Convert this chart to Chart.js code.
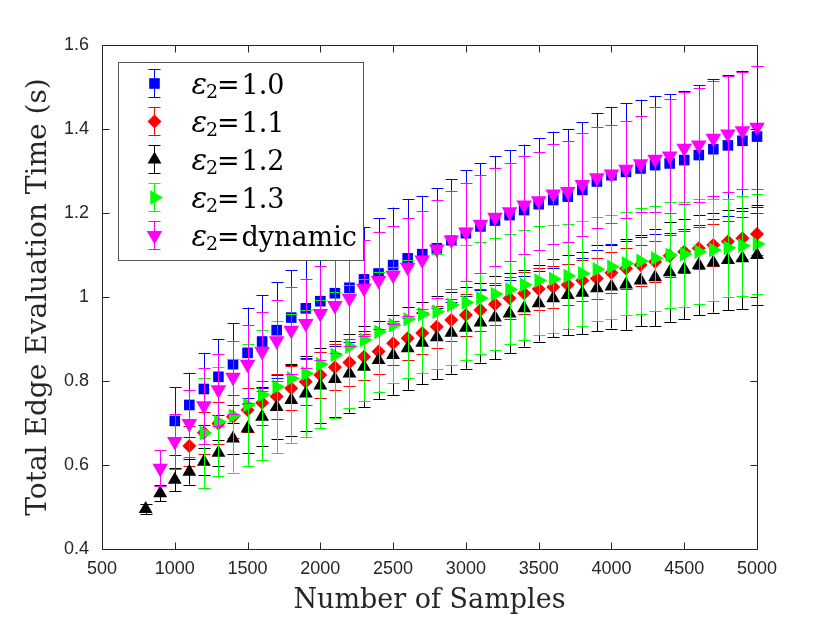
<!DOCTYPE html>
<html>
<head>
<meta charset="utf-8">
<script src="https://cdn.jsdelivr.net/npm/chart.js"></script>
<style>
html,body{margin:0;padding:0;background:#ffffff;}
#wrap{width:830px;height:623px;position:relative;}
</style>
</head>
<body>
<div id="wrap"><canvas id="c" width="830" height="623"></canvas></div>
<script>
// ---------------- data ----------------
const samples = [800,900,1000,1100,1200,1300,1400,1500,1600,1700,1800,1900,2000,2100,2200,2300,2400,2500,2600,2700,2800,2900,3000,3100,3200,3300,3400,3500,3600,3700,3800,3900,4000,4100,4200,4300,4400,4500,4600,4700,4800,4900,5000];

const xTickValues = [500,1000,1500,2000,2500,3000,3500,4000,4500,5000];
const xTickLabels = ['500','1000','1500','2000','2500','3000','3500','4000','4500','5000'];
const yTickValues = [0.4,0.6,0.8,1.0,1.2,1.4,1.6];
const yTickLabels = ['0.4','0.6','0.8','1','1.2','1.4','1.6'];

const seriesNames = ['1.0','1.1','1.2','1.3','dynamic'];

// eps2 = 1.0 (starts at 1000)
const mean10 = [null,null,
  0.705,0.743,0.781,0.810,0.840,0.867,0.894,0.921,0.951,0.973,0.990,1.009,1.022,1.042,1.056,1.076,1.092,1.102,1.116,1.134,
  1.152,1.168,1.182,1.195,1.207,1.221,1.231,1.239,1.255,1.275,1.290,1.298,1.306,1.314,1.318,1.326,1.338,1.352,1.361,1.372,1.382];
const err10 = [null,null,
  0.080,0.077,0.086,0.090,0.097,0.108,0.110,0.114,0.113,0.118,0.122,0.126,0.130,0.124,0.131,0.137,0.141,0.139,0.143,0.147,
  0.150,0.151,0.153,0.155,0.156,0.158,0.163,0.160,0.161,0.162,0.163,0.164,0.164,0.165,0.165,0.165,0.166,0.166,0.167,0.167,0.167];

// eps2 = 1.1 (starts at 1100)
const mean11 = [null,null,null,
  0.645,0.677,0.699,0.715,0.731,0.748,0.763,0.783,0.798,0.814,0.833,0.844,0.858,0.870,0.890,0.902,0.914,0.929,0.945,
  0.957,0.969,0.983,0.997,1.009,1.019,1.024,1.029,1.039,1.044,1.058,1.068,1.076,1.084,1.098,1.108,1.116,1.124,1.132,1.140,1.150];
const err11 = [null,null,null,
  0.048,0.050,0.050,0.051,0.052,0.052,0.053,0.053,0.054,0.054,0.055,0.055,0.055,0.054,0.053,0.052,0.050,0.050,0.050,
  0.050,0.050,0.050,0.050,0.050,0.050,0.049,0.049,0.049,0.049,0.048,0.049,0.049,0.049,0.050,0.050,0.050,0.050,0.050,0.050,0.050];

// eps2 = 1.2 (starts at 800)
const mean12 = [
  0.495,0.533,0.565,0.584,0.608,0.629,0.663,0.687,0.715,0.738,0.755,0.770,0.789,0.805,0.818,0.834,0.850,0.862,0.878,0.891,0.904,0.915,
  0.927,0.939,0.951,0.961,0.973,0.985,0.997,1.005,1.010,1.021,1.025,1.030,1.039,1.047,1.059,1.066,1.076,1.082,1.088,1.092,1.100];
const err12 = [
  0.012,0.019,0.027,0.031,0.032,0.031,0.036,0.058,0.070,0.077,0.086,0.089,0.090,0.091,0.093,0.097,0.094,0.095,0.099,0.098,0.099,0.098,
  0.098,0.095,0.099,0.095,0.091,0.091,0.093,0.095,0.098,0.102,0.100,0.109,0.108,0.116,0.119,0.119,0.119,0.119,0.119,0.121,0.120];

// eps2 = 1.3 (starts at 1200)
const mean13 = [null,null,null,null,
  0.676,0.703,0.717,0.743,0.767,0.786,0.806,0.818,0.840,0.862,0.882,0.898,0.917,0.933,0.947,0.959,0.965,0.981,
  0.987,0.997,1.007,1.018,1.029,1.039,1.043,1.050,1.056,1.066,1.072,1.080,1.086,1.092,1.100,1.102,1.108,1.112,1.117,1.122,1.126];
const err13 = [null,null,null,null,
  0.130,0.130,0.135,0.145,0.155,0.157,0.153,0.152,0.153,0.151,0.147,0.145,0.142,0.138,0.141,0.139,0.137,0.143,
  0.137,0.133,0.133,0.131,0.131,0.129,0.128,0.125,0.125,0.124,0.124,0.123,0.126,0.125,0.127,0.125,0.125,0.122,0.117,0.119,0.120];

// eps2 = dynamic (starts at 900)
const meanDyn = [null,
  0.592,0.656,0.699,0.741,0.779,0.809,0.840,0.870,0.896,0.921,0.937,0.961,0.980,0.997,1.021,1.039,1.052,1.071,1.088,1.114,1.136,
  1.155,1.173,1.190,1.203,1.219,1.229,1.245,1.251,1.268,1.284,1.293,1.304,1.317,1.328,1.336,1.354,1.362,1.378,1.388,1.396,1.404];
const errDyn = [null,
  0.043,0.065,0.080,0.090,0.086,0.087,0.093,0.094,0.097,0.104,0.107,0.112,0.113,0.114,0.115,0.116,0.116,0.117,0.117,0.117,0.117,
  0.117,0.117,0.117,0.117,0.117,0.117,0.119,0.120,0.123,0.120,0.117,0.116,0.115,0.125,0.135,0.133,0.136,0.137,0.138,0.140,0.146];

// ---------------- helpers ----------------
function toPoints(means, errs){
  const pts = [];
  samples.forEach((s,i)=>{ if(means[i]!==null) pts.push({x:s, y:means[i], e:errs[i]}); });
  return pts;
}
const AXIS_COLOR = '#262626';

function drawMarker(ctx, style, rotationDeg, r, x, y){
  const rad = rotationDeg*Math.PI/180;
  ctx.beginPath();
  if(style==='rect'){
    const s = Math.SQRT1_2*r;
    ctx.rect(x-s,y-s,2*s,2*s);
  } else if(style==='rectRot'){
    ctx.moveTo(x, y-r); ctx.lineTo(x+r, y); ctx.lineTo(x, y+r); ctx.lineTo(x-r, y);
    ctx.closePath();
  } else {
    let a = rad;
    ctx.moveTo(x+Math.sin(a)*r, y-Math.cos(a)*r);
    a += 2*Math.PI/3; ctx.lineTo(x+Math.sin(a)*r, y-Math.cos(a)*r);
    a += 2*Math.PI/3; ctx.lineTo(x+Math.sin(a)*r, y-Math.cos(a)*r);
    ctx.closePath();
  }
  ctx.fill();
}

// error bars drawn just before each dataset's markers
const errorBarPlugin = {
  id:'errorBars',
  beforeDatasetDraw(chart, args){
    const ds = chart.data.datasets[args.index];
    const xs = chart.scales.x, ys = chart.scales.y;
    const ctx = chart.ctx;
    ctx.save();
    ctx.strokeStyle = ds.barColor;
    ctx.lineWidth = 1;
    ctx.beginPath();
    ds.data.forEach(p=>{
      const px = Math.round(xs.getPixelForValue(p.x))+0.5;
      const y1 = ys.getPixelForValue(p.y + p.e);
      const y2 = ys.getPixelForValue(p.y - p.e);
      ctx.moveTo(px, y1); ctx.lineTo(px, y2);
      ctx.moveTo(px-6, Math.round(y1)+0.5); ctx.lineTo(px+6, Math.round(y1)+0.5);
      ctx.moveTo(px-6, Math.round(y2)+0.5); ctx.lineTo(px+6, Math.round(y2)+0.5);
    });
    ctx.stroke();
    ctx.restore();
  }
};

// box frame with inward ticks on all four sides
const framePlugin = {
  id:'frame',
  afterDatasetsDraw(chart){
    const {ctx, chartArea:a} = chart;
    const xs = chart.scales.x, ys = chart.scales.y;
    const L = Math.round(a.left)+0.5, R = Math.round(a.right)+0.5, T = Math.round(a.top)+0.5, B = Math.round(a.bottom)+0.5;
    ctx.save();
    ctx.strokeStyle = AXIS_COLOR;
    ctx.lineWidth = 1;
    ctx.beginPath();
    ctx.rect(L, T, R-L, B-T);
    const tl = 7;
    xTickValues.forEach(v=>{
      const px = Math.round(xs.getPixelForValue(v))+0.5;
      ctx.moveTo(px, B); ctx.lineTo(px, B-tl);
      ctx.moveTo(px, T); ctx.lineTo(px, T+tl);
    });
    yTickValues.forEach(v=>{
      const py = Math.round(ys.getPixelForValue(v))+0.5;
      ctx.moveTo(L, py); ctx.lineTo(L+tl, py);
      ctx.moveTo(R, py); ctx.lineTo(R-tl, py);
    });
    ctx.stroke();
    ctx.restore();
  }
};

// legend box with error-bar symbols
const legendPlugin = {
  id:'errLegend',
  afterDraw(chart){
    const ctx = chart.ctx;
    ctx.save();
    const L = 118.5, T = 62.5, W = 245, H = 198;
    ctx.fillStyle = '#ffffff';
    ctx.fillRect(L, T, W, H);
    ctx.strokeStyle = '#555555';
    ctx.lineWidth = 1;
    ctx.strokeRect(L, T, W, H);
    chart.data.datasets.forEach((ds,i)=>{
      const cy = 83.5 + i*38;
      const cx = 154.5;
      ctx.strokeStyle = ds.barColor;
      ctx.lineWidth = 1;
      ctx.beginPath();
      ctx.moveTo(cx, cy-14); ctx.lineTo(cx, cy+14);
      ctx.moveTo(cx-6, cy-14); ctx.lineTo(cx+6, cy-14);
      ctx.moveTo(cx-6, cy+14); ctx.lineTo(cx+6, cy+14);
      ctx.stroke();
      ctx.fillStyle = ds.backgroundColor;
      drawMarker(ctx, ds.pointStyle, ds.rotation||0, ds.pointRadius, cx, cy);
      ctx.fillStyle = '#000000';
      ctx.textBaseline = 'alphabetic';
      ctx.textAlign = 'left';
      ctx.font = 'italic 29px "DejaVu Serif"';
      const we = ctx.measureText('\u03B5').width;
      ctx.fillText('\u03B5', 207 - we, cy+10);
      ctx.font = '19px "DejaVu Serif"';
      ctx.fillText('2', 206, cy+14);
      ctx.font = '27px "DejaVu Serif"';
      ctx.fillText('=', 217, cy+10);
      ctx.fillText(seriesNames[i], 241.5, cy+10);
    });
    ctx.restore();
  }
};

function makeDataset(label, means, errs, color, style, rotation, radius, order){
  return {
    label: label,
    data: toPoints(means, errs),
    backgroundColor: color,
    borderColor: color,
    barColor: color,
    pointBackgroundColor: color,
    pointBorderColor: color,
    pointBorderWidth: 0,
    pointStyle: style,
    rotation: rotation,
    pointRotation: rotation,
    pointRadius: radius,
    pointHoverRadius: radius,
    showLine: false,
    clip: false,
    order: order
  };
}

const datasets = [
  makeDataset('\u03B52=' + seriesNames[0], mean10, err10, 'rgb(0,0,255)', 'rect', 0, 7.5, 5),
  makeDataset('\u03B52=' + seriesNames[1], mean11, err11, 'rgb(255,0,0)', 'rectRot', 0, 7, 4),
  makeDataset('\u03B52=' + seriesNames[2], mean12, err12, 'rgb(0,0,0)', 'triangle', 0, 8, 3),
  makeDataset('\u03B52=' + seriesNames[3], mean13, err13, 'rgb(0,255,0)', 'triangle', 90, 8.5, 2),
  makeDataset('\u03B52=' + seriesNames[4], meanDyn, errDyn, 'rgb(255,0,255)', 'triangle', 180, 9, 1)
];

new Chart(document.getElementById('c'), {
  type: 'scatter',
  data: { datasets: datasets },
  plugins: [errorBarPlugin, framePlugin, legendPlugin],
  options: {
    responsive: false,
    animation: false,
    events: [],
    devicePixelRatio: 1,
    layout: { padding: { left: 0, top: 45, right: 73, bottom: 0 } },
    plugins: { legend: { display: false }, tooltip: { enabled: false } },
    scales: {
      x: {
        type: 'linear', min: 500, max: 5000,
        afterBuildTicks: s => { s.ticks = xTickValues.map(v => ({ value: v })); },
        afterFit: s => { s.height = 74; },
        ticks: {
          callback: v => { const i = xTickValues.indexOf(v); return i >= 0 ? xTickLabels[i] : ''; },
          font: { family: '"Liberation Sans", Arial, sans-serif', size: 18 },
          color: AXIS_COLOR, padding: 9, maxRotation: 0, autoSkip: false
        },
        grid: { display: false, drawTicks: false },
        border: { display: false },
        title: { display: true, text: 'Number of Samples',
          font: { family: '"DejaVu Serif"', size: 27 }, color: AXIS_COLOR,
          padding: { top: 0, bottom: 6 } }
      },
      y: {
        type: 'linear', min: 0.4, max: 1.6,
        afterBuildTicks: s => { s.ticks = yTickValues.map(v => ({ value: v })); },
        afterFit: s => { s.width = 102; },
        ticks: {
          callback: v => { const i = yTickValues.findIndex(t => Math.abs(t - v) < 1e-9); return i >= 0 ? yTickLabels[i] : ''; },
          font: { family: '"Liberation Sans", Arial, sans-serif', size: 18 },
          color: AXIS_COLOR, padding: 13, autoSkip: false
        },
        grid: { display: false, drawTicks: false },
        border: { display: false },
        title: { display: true, text: 'Total Edge Evaluation Time (s)',
          font: { family: '"DejaVu Serif"', size: 28 }, color: AXIS_COLOR,
          padding: { top: 22, bottom: 0 } }
      }
    }
  }
});
</script>
</body>
</html>
